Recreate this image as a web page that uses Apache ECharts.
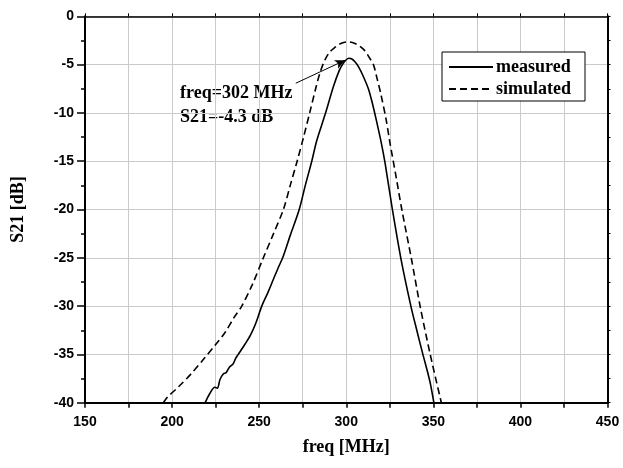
<!DOCTYPE html>
<html>
<head>
<meta charset="utf-8">
<script src="https://cdn.jsdelivr.net/npm/echarts@6/dist/echarts.min.js"></script>
<style>
html,body{margin:0;padding:0;background:#fff;}
#chart{width:623px;height:468px;}
</style>
</head>
<body>
<div id="chart"></div>
<script>
// ---- data ----
const freqMeasured = [219, 221.5, 224.5, 226, 227.5, 229.5, 231, 233, 235, 236.5, 238, 242, 245, 248, 251.5, 255, 258, 261, 263.5, 268, 273, 276.5, 280.2, 283, 287.8, 292.6, 296, 298, 300, 301.5, 303, 305, 307, 309.5, 312.7, 315, 317.2, 320, 322.3, 326.5, 331.3, 337.1, 340.5, 344, 346.8, 348.5, 350.3];
const s21Measured  = [-40, -39.1, -38.4, -38.5, -37.6, -37.0, -36.9, -36.3, -36.0, -35.4, -35.0, -33.9, -33.0, -31.8, -30.0, -28.6, -27.3, -26.0, -25.0, -22.6, -20.0, -17.5, -15.0, -12.9, -10.2, -7.3, -5.6, -4.95, -4.5, -4.35, -4.4, -4.7, -5.2, -6.1, -7.5, -9.0, -10.7, -13.0, -15.2, -20.0, -25.0, -30.0, -32.5, -35.0, -36.9, -38.2, -40];
const freqSimulated = [195, 197, 204, 211.5, 218.5, 224.5, 230.5, 235.5, 240, 246, 252.4, 258, 263.9, 268, 271.8, 275.5, 279, 282.7, 285, 287.8, 290.5, 293.6, 296, 298.5, 301, 303.5, 306, 308.5, 310.8, 313, 315.6, 317.5, 319.8, 322.9, 325, 328.5, 331.9, 337.3, 342.4, 348.2, 354.6];
const s21Simulated  = [-40, -39.5, -38.3, -36.9, -35.4, -34.1, -32.7, -31.2, -30.0, -27.8, -25.0, -22.6, -20.0, -17.4, -15.0, -12.5, -10.0, -7.3, -5.8, -4.5, -3.7, -3.2, -2.9, -2.72, -2.65, -2.72, -2.9, -3.2, -3.6, -4.2, -5.0, -6.3, -8.0, -10.7, -13.0, -16.5, -20.0, -25.0, -30.0, -35.0, -40];
const seriesNames = ['measured', 'simulated'];
const annotationLines = ['freq=302 MHz', 'S21=-4.3 dB'];
const arrowFrom = [271, -6.93];
const arrowTo = [299.3, -4.55];
const xRange = [150, 450];
const yRange = [-40, 0];

const pairs = (xs, ys) => xs.map((x, i) => [x, ys[i]]);

const serif = '"Liberation Serif", "Times New Roman", serif';
const sans = '"Liberation Sans", Arial, sans-serif';

const chart = echarts.init(document.getElementById('chart'), null, {renderer: 'canvas'});
chart.setOption({
  animation: false,
  backgroundColor: '#fff',
  grid: {left: 85, right: 15.5, top: 16.3, bottom: 65.3, containLabel: false},
  legend: {
    orient: 'vertical',
    left: 442, top: 52,
    padding: [6, 14, 3, 6],
    itemGap: 4,
    itemWidth: 44,
    itemHeight: 14,
    backgroundColor: '#fff',
    borderColor: '#000',
    borderWidth: 1,
    itemStyle: {opacity: 0},
    textStyle: {fontFamily: serif, fontWeight: 'bold', fontSize: 18, color: '#000', padding: [0,0,0,-2]},
    data: seriesNames
  },
  xAxis: [{
    type: 'value', min: xRange[0], max: xRange[1], interval: 50,
    name: 'freq [MHz]', nameLocation: 'middle', nameGap: 36,
    nameTextStyle: {fontFamily: serif, fontWeight: 'bold', fontSize: 18, color: '#000'},
    axisLine: {show: true, onZero: false, lineStyle: {color: '#000', width: 2}},
    axisTick: {show: true, inside: false, length: 5, lineStyle: {color: '#000', width: 1.5}},
    minorTick: {show: true, splitNumber: 2, length: 5, lineStyle: {color: '#000', width: 1.5}},
    axisLabel: {fontFamily: sans, fontWeight: 'bold', fontSize: 14, color: '#000', margin: 12},
    splitLine: {show: true, lineStyle: {color: '#cacaca', width: 1}},
    minorSplitLine: {show: true, lineStyle: {color: '#cacaca', width: 1}}
  }, {
    type: 'value', position: 'top', min: xRange[0], max: xRange[1], interval: 50,
    axisLine: {show: true, onZero: false, lineStyle: {color: '#000', width: 1.5}},
    axisTick: {show: true, length: 3, lineStyle: {color: '#000', width: 1}},
    minorTick: {show: true, splitNumber: 2, length: 3, lineStyle: {color: '#000', width: 1}},
    axisLabel: {show: false},
    splitLine: {show: false}
  }],
  yAxis: [{
    type: 'value', min: yRange[0], max: yRange[1], interval: 5,
    name: 'S21 [dB]', nameLocation: 'middle', nameGap: 58, nameRotate: 90,
    nameTextStyle: {fontFamily: serif, fontWeight: 'bold', fontSize: 18, color: '#000'},
    axisLine: {show: true, onZero: false, lineStyle: {color: '#000', width: 2}},
    axisTick: {show: true, length: 8, lineStyle: {color: '#000', width: 1.5}},
    minorTick: {show: true, splitNumber: 2, length: 4, lineStyle: {color: '#000', width: 1.5}},
    axisLabel: {fontFamily: sans, fontWeight: 'bold', fontSize: 14, color: '#000', margin: 11},
    splitLine: {show: true, lineStyle: {color: '#cacaca', width: 1}}
  }, {
    type: 'value', position: 'right', min: yRange[0], max: yRange[1], interval: 5,
    axisLine: {show: true, onZero: false, lineStyle: {color: '#000', width: 2}},
    axisTick: {show: true, length: 3, lineStyle: {color: '#000', width: 1}},
    minorTick: {show: true, splitNumber: 2, length: 3, lineStyle: {color: '#000', width: 1}},
    axisLabel: {show: false},
    splitLine: {show: false}
  }],
  series: [{
    name: seriesNames[0], type: 'line', xAxisIndex: 0, yAxisIndex: 0,
    data: pairs(freqMeasured, s21Measured),
    showSymbol: false, symbol: 'none', smooth: 0.3,
    lineStyle: {color: '#000', width: 1.6, type: 'solid'},
    itemStyle: {color: '#000'},
    markLine: {
      silent: true,
      symbol: ['none', 'arrow'],
      symbolSize: [7, 10],
      label: {show: false},
      lineStyle: {color: '#000', width: 1, type: 'solid'},
      data: [[{coord: arrowFrom}, {coord: arrowTo}]]
    }
  }, {
    name: seriesNames[1], type: 'line', xAxisIndex: 0, yAxisIndex: 0,
    data: pairs(freqSimulated, s21Simulated),
    showSymbol: false, symbol: 'none', smooth: 0.3,
    lineStyle: {color: '#000', width: 1.6, type: [7, 4]},
    itemStyle: {color: '#000'}
  }],
  graphic: annotationLines.map((t, i) => ({
    type: 'text', left: 180, top: 84 + i * 24,
    style: {text: t, font: 'bold 18px ' + serif, fill: '#000'}
  }))
});
</script>
</body>
</html>
